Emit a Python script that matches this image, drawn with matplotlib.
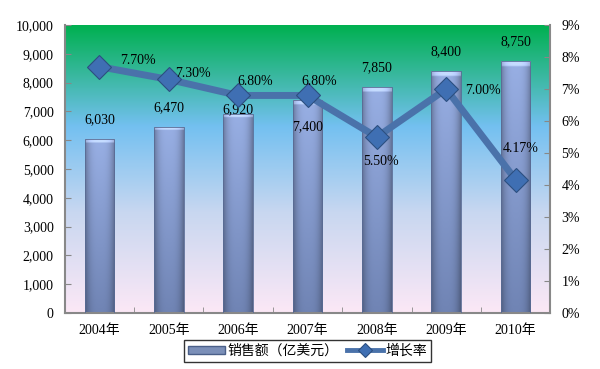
import numpy as np
import matplotlib
matplotlib.use('Agg')
import matplotlib.pyplot as plt
from matplotlib.colors import LinearSegmentedColormap

plt.rcParams['font.family'] = ['Liberation Serif', 'Noto Sans CJK SC']

# data
years = ['2004年', '2005年', '2006年', '2007年', '2008年', '2009年', '2010年']
sales = [6030, 6470, 6920, 7400, 7850, 8400, 8750]
growth = [7.70, 7.30, 6.80, 6.80, 5.50, 7.00, 4.17]

# label placement (pixel offsets)
sales_off = [14, 14, 3, -19, 14, 14, 14]
growth_off = [(38, 6), (24, 6), (17, 14), (12, 14), (4, -24), (37, -1), (5, 31)]

fig = plt.figure(figsize=(6, 3.69), dpi=100)
ax = fig.add_axes([0.108, 0.152, 0.809, 0.78])
x = np.arange(len(years))

# background gradient
bg_stops = [(0.0, (0/255, 176/255, 80/255)),
            (0.35, (115/255, 192/255, 240/255)),
            (0.65, (200/255, 215/255, 240/255)),
            (1.0, (252/255, 232/255, 246/255))]
bg_cmap = LinearSegmentedColormap.from_list('bg', bg_stops)
grad = np.linspace(0, 1, 256).reshape(-1, 1)
ax.imshow(grad, cmap=bg_cmap, extent=[-0.5, 6.5, 0, 10000], aspect='auto', zorder=0)

bars = ax.bar(x, sales, width=0.43, color='none', zorder=2)

# bar shading
xs = np.linspace(-1, 1, 60)
shade = 1 - 0.3 * np.abs(xs) ** 3
for b in bars:
    h = b.get_height()
    ys = np.linspace(0, 1, 100).reshape(-1, 1)
    top = np.array([152, 175, 228]) / 255
    bot = np.array([112, 132, 180]) / 255
    base = top * (1 - ys[..., None]) + bot * ys[..., None]
    img = np.clip(base * shade[None, :, None], 0, 1)
    capn = max(2, int(100 * 110 / h))
    img[:capn] = np.clip(img[:capn] + 0.18, 0, 1)
    im = ax.imshow(img, extent=[b.get_x(), b.get_x() + b.get_width(), 0, h],
                   aspect='auto', zorder=2)
    im.set_clip_path(b)
    ax.add_patch(plt.Rectangle((b.get_x(), 0), b.get_width(), h, fill=False,
                               edgecolor=(0.35, 0.42, 0.58), linewidth=0.6, zorder=3))

for xi, v, off in zip(x, sales, sales_off):
    ax.annotate(f'{v:,}', (xi, v), xytext=(0, off), textcoords='offset points',
                ha='center', va='center', fontsize=10, zorder=6)

ax.set_xlim(-0.5, 6.5)
ax.set_ylim(0, 10000)
ax.set_yticks(np.arange(0, 10001, 1000))
ax.set_yticklabels([f'{v:,}' for v in range(0, 10001, 1000)])
ax.set_xticks(x)
ax.set_xticklabels(years)
ax.set_xticks(np.arange(-0.5, 6.6, 1), minor=True)
ax.tick_params(axis='x', which='major', length=0, pad=8, labelsize=10)
ax.tick_params(axis='x', which='minor', direction='in', length=4, color='#888888')
ax.tick_params(axis='y', direction='in', length=4, color='#888888', labelsize=10, pad=8)
for s in ['left', 'bottom']:
    ax.spines[s].set_color('#888888')
    ax.spines[s].set_linewidth(1.5)
ax.spines['top'].set_visible(False)
ax.spines['right'].set_visible(False)

ax2 = ax.twinx()
ax2.set_ylim(0, 9)
ax2.set_yticks(np.arange(0, 10, 1))
ax2.set_yticklabels([f'{v}%' for v in range(10)])
ax2.tick_params(axis='y', direction='in', length=4, color='#888888', labelsize=10, pad=8)
for s in ['top', 'left', 'bottom']:
    ax2.spines[s].set_visible(False)
ax2.spines['right'].set_color('#888888')
ax2.spines['right'].set_linewidth(1.5)

ln, = ax2.plot(x, growth, color='#4a72aa', linewidth=5, marker='D', markersize=12,
               markerfacecolor='#3f6fb3', markeredgecolor='#2c4f80', markeredgewidth=0.8,
               zorder=5)
for xi, v, (dx, dy) in zip(x, growth, growth_off):
    ax2.annotate(f'{v:.2f}%', (xi, v), xytext=(dx * 0.72, dy * 0.72), textcoords='offset points',
                 ha='center', va='center', fontsize=10, zorder=6)

proxy = plt.Rectangle((0, 0), 1, 1, facecolor='#7b8fb8', edgecolor='#4a5f88')
leg = fig.legend([proxy, ln], ['销售额（亿美元）', '增长率'], loc='lower center',
                 bbox_to_anchor=(0.513, 0.0), ncol=2, frameon=True, fancybox=False,
                 edgecolor='black', handlelength=2.6, handleheight=0.5, handletextpad=0.2,
                 columnspacing=0.6, borderpad=0.3, markerscale=0.6,
                 prop={'family': ['Noto Sans CJK SC'], 'size': 10})
leg.get_frame().set_linewidth(1)
leg.get_lines()[0].set_linewidth(3.5)

fig.savefig('out.png', dpi=100)
